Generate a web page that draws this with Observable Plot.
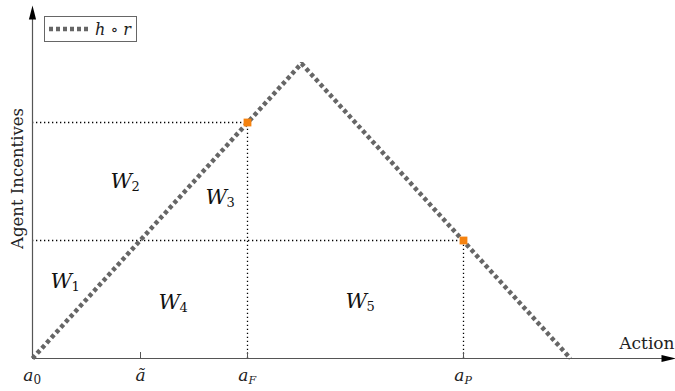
<!DOCTYPE html>
<html>
<head>
<meta charset="utf-8">
<script src="https://cdn.jsdelivr.net/npm/d3@7"></script>
<script src="https://cdn.jsdelivr.net/npm/@observablehq/plot@0.6"></script>
<style>
  html, body { margin: 0; padding: 0; background: #fff; }
  #wrap { position: relative; width: 675px; height: 391px; }
  #legend { position: absolute; left: 44px; top: 16px; width: 93px; height: 26px;
    border: 1px solid #666; background: #fff; box-sizing: border-box;
    font-family: 'DejaVu Serif', serif; font-size: 16px; display: flex; align-items: center; color: #222; }
  #legend svg { margin-left: 4px; margin-right: 6px; }
  #legend i { font-style: italic; }
</style>
</head>
<body>
<div id="wrap"></div>
<script>
// ---- data (abstract units: action on x, agent incentives on y) ----
const curveX = [0, 269, 538];          // a0, peak, end of h∘r
const curveY = [0, 295, 0];
const pointX = [215, 431];             // a_F, a_P
const pointY = [236, 118];
const tickValues = [0, 108, 215, 431];
const tickBase = ["a", "ã", "a", "a"];
const tickSub = ["0", "", "F", "P"];
const regionSub = ["1", "2", "3", "4", "5"];
const regionX = [18, 78, 173, 126, 313];
const regionY = [71, 171, 155, 50, 51];
const xLabel = "Action";
const yLabel = "Agent Incentives";
const legendLabel = ["h", "∘", "r"];
const xMax = 630, yMax = 340;

const curve = curveX.map((x, i) => ({x, y: curveY[i]}));
const points = pointX.map((x, i) => ({x, y: pointY[i]}));
const ticks = tickValues.map((x, i) => ({x, base: tickBase[i], sub: tickSub[i]}));
const regions = regionSub.map((s, i) => ({x: regionX[i], y: regionY[i], base: "W", sub: s}));

const arrowHead = {
  draw(ctx) { ctx.moveTo(0, -7); ctx.lineTo(3.6, 7); ctx.lineTo(-3.6, 7); ctx.closePath(); }
};

const serif = "'DejaVu Serif', serif";
const chart = Plot.plot({
  width: 675, height: 391,
  marginTop: 0, marginRight: 0, marginBottom: 0, marginLeft: 0,
  x: {domain: [-32, 643], axis: null},
  y: {domain: [-33, 358], axis: null},
  style: {fontFamily: serif, background: "white", overflow: "visible"},
  marks: [
    // guide lines
    Plot.ruleY(points, {y: "y", x1: 0, x2: "x", stroke: "#000", strokeWidth: 1.3, strokeDasharray: "1.3,2.7"}),
    Plot.ruleX(points, {x: "x", y1: 0, y2: "y", stroke: "#000", strokeWidth: 1.3, strokeDasharray: "1.3,2.7"}),
    // axes
    Plot.ruleY([0], {x1: 0, x2: xMax, stroke: "#555", strokeWidth: 1.2}),
    Plot.ruleX([0], {y1: 0, y2: yMax, stroke: "#555", strokeWidth: 1.2}),
    Plot.dot([{x: xMax + 6, y: 0}], {x: "x", y: "y", symbol: arrowHead, rotate: 90, fill: "#000", stroke: "none"}),
    Plot.dot([{x: 0, y: yMax + 6}], {x: "x", y: "y", symbol: arrowHead, fill: "#000", stroke: "none"}),
    Plot.ruleX(ticks.slice(1), {x: "x", y1: 0, y2: 6, stroke: "#555", strokeWidth: 1}),
    // h∘r curve
    Plot.line(curve, {x: "x", y: "y", stroke: "#666", strokeWidth: 4.5, strokeDasharray: "4,3",
      strokeLinecap: "butt", strokeLinejoin: "miter"}),
    // points
    Plot.dot(points, {x: "x", y: "y", symbol: "square", r: 4.4, fill: "#f5820f", stroke: "none"}),
    // tick labels
    Plot.text(ticks.filter(d => d.sub), {x: "x", y: -22, text: "base", textAnchor: "end", lineAnchor: "bottom",
      dx: 1, fontSize: 17, fontStyle: "italic", fontFamily: serif, fill: "#222"}),
    Plot.text(ticks.filter(d => d.sub === "0"), {x: "x", y: -25, text: "sub", textAnchor: "start", lineAnchor: "bottom",
      dx: 1, fontSize: 12, fontFamily: serif, fill: "#222"}),
    Plot.text(ticks.filter(d => d.sub && d.sub !== "0"), {x: "x", y: -25, text: "sub", textAnchor: "start", lineAnchor: "bottom",
      dx: 1, fontSize: 11, fontStyle: "italic", fontFamily: serif, fill: "#222"}),
    Plot.text(ticks.filter(d => !d.sub), {x: "x", y: -22, text: "base", textAnchor: "middle", lineAnchor: "bottom",
      fontSize: 17, fontStyle: "italic", fontFamily: serif, fill: "#222"}),
    // region labels
    Plot.text(regions, {x: "x", y: "y", text: "base", textAnchor: "start", lineAnchor: "bottom",
      fontSize: 21, fontStyle: "italic", fontFamily: serif, fill: "#111"}),
    Plot.text(regions, {x: "x", y: "y", text: "sub", textAnchor: "start", lineAnchor: "bottom",
      dx: 21, dy: 3.5, fontSize: 13, fontFamily: serif, fill: "#111"}),
    // axis titles
    Plot.text([xLabel], {x: xMax + 12, y: 10, text: d => d, textAnchor: "end", lineAnchor: "bottom",
      fontSize: 17, fontFamily: serif, fill: "#222"}),
    Plot.text([yLabel], {x: -15, y: 180, text: d => d, rotate: -90, textAnchor: "middle", lineAnchor: "middle",
      fontSize: 16.5, fontFamily: serif, fill: "#222"})
  ]
});
const wrap = document.getElementById("wrap");
wrap.appendChild(chart);
const legend = document.createElement("div");
legend.id = "legend";
legend.innerHTML = `<svg width="40" height="10"><line x1="0" y1="5" x2="40" y2="5" stroke="#666" stroke-width="4.5" stroke-dasharray="4,3"/></svg>` +
  `<span><i>${legendLabel[0]}</i> ${legendLabel[1]} <i>${legendLabel[2]}</i></span>`;
wrap.appendChild(legend);
</script>
</body>
</html>
